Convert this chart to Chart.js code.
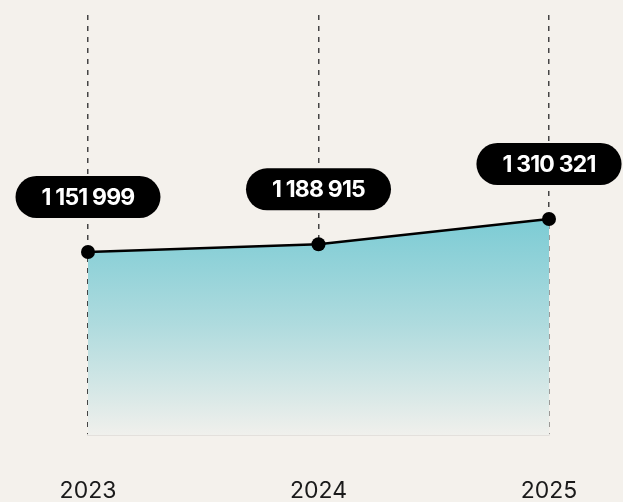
<!DOCTYPE html>
<html>
<head>
<meta charset="utf-8">
<script src="https://cdn.jsdelivr.net/npm/chart.js@4"></script>
<style>
  html, body { margin: 0; padding: 0; background: #f4f1ec; }
  #wrap { width: 623px; height: 502px; }
</style>
</head>
<body>
<div id="wrap"><canvas id="c" width="623" height="502"></canvas></div>
<script>
const years = ['2023', '2024', '2025'];
const totals = [1151999, 1188915, 1310321];

const fmt = v => String(v).replace(/\B(?=(\d{3})+(?!\d))/g, ' ');

// black pill labels above each point
const pillLabels = {
  id: 'pillLabels',
  afterDatasetsDraw(chart) {
    const ctx = chart.ctx;
    const meta = chart.getDatasetMeta(0);
    ctx.save();
    ctx.font = 'bold 23px Inter';
    ctx.letterSpacing = '-0.8px';
    meta.data.forEach((pt, i) => {
      const txt = fmt(totals[i]);
      const w = ctx.measureText(txt).width + 52;
      const h = 42;
      const cx = pt.x;
      const cy = pt.y - 55;
      ctx.fillStyle = '#000';
      ctx.beginPath();
      ctx.roundRect(cx - w / 2, cy - h / 2, w, h, h / 2);
      ctx.fill();
      ctx.fillStyle = '#fff';
      ctx.textAlign = 'center';
      ctx.textBaseline = 'middle';
      ctx.fillText(txt, cx, cy + 1);
    });
    ctx.restore();
  }
};

new Chart(document.getElementById('c'), {
  type: 'line',
  data: {
    labels: years,
    datasets: [{
      data: totals,
      borderColor: '#000',
      borderWidth: 2.5,
      pointRadius: 7,
      pointBackgroundColor: '#000',
      pointBorderWidth: 0,
      tension: 0,
      fill: 'start',
      backgroundColor: (c) => {
        const area = c.chart.chartArea;
        if (!area) return 'rgba(126,205,214,0.9)';
        const g = c.chart.ctx.createLinearGradient(0, 215, 0, area.bottom);
        g.addColorStop(0, 'rgba(122,203,212,1)');
        g.addColorStop(0.5, 'rgba(175,219,222,1)');
        g.addColorStop(1, 'rgba(240,240,236,1)');
        return g;
      }
    }]
  },
  options: {
    responsive: false,
    animation: false,
    layout: { padding: { left: 88, right: 74, top: 15, bottom: 0 } },
    plugins: { legend: { display: false }, tooltip: { enabled: false } },
    scales: {
      x: {
        grid: { color: '#444', lineWidth: 1.5, drawTicks: false },
        border: { display: true, color: '#d2d0cc', width: 1.5, dash: [5, 6] },
        ticks: { color: '#1a1a1a', font: { family: 'Inter', size: 23 }, padding: 42, maxRotation: 0 },
        afterFit: s => { s.height = 67; }
      },
      y: {
        display: false,
        min: 274000,
        max: 2289000
      }
    }
  },
  plugins: [pillLabels]
});
</script>
</body>
</html>
